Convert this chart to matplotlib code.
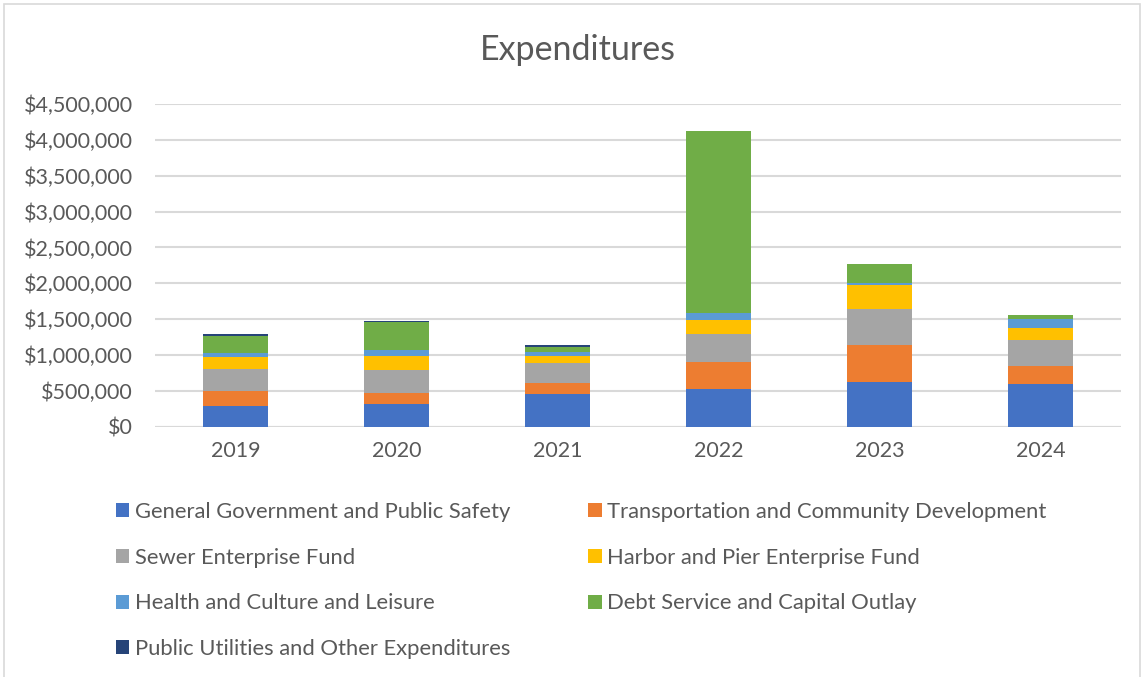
import matplotlib
matplotlib.use('Agg')
import matplotlib.pyplot as plt
from matplotlib.patches import Patch, Rectangle
import numpy as np

# data (dollars)
years = ['2019', '2020', '2021', '2022', '2023', '2024']
general_gov = [284000, 320000, 459000, 528000, 626000, 590000]
transport = [216000, 153000, 149000, 381000, 520000, 250000]
sewer = [307000, 320000, 274000, 390000, 491000, 366000]
harbor = [158000, 190000, 106000, 195000, 338000, 167000]
health = [65000, 88000, 47000, 97000, 24000, 135000]
debt = [241000, 389000, 83000, 2535000, 268000, 55000]
utilities = [15000, 14000, 18000, 1000, 1000, 1000]

names = ['General Government and Public Safety',
         'Transportation and Community Development',
         'Sewer Enterprise Fund',
         'Harbor and Pier Enterprise Fund',
         'Health and Culture and Leisure',
         'Debt Service and Capital Outlay',
         'Public Utilities and Other Expenditures']
series = [general_gov, transport, sewer, harbor, health, debt, utilities]
colors = ['#4472C4', '#ED7D31', '#A5A5A5', '#FFC000', '#5B9BD5', '#70AD47', '#264478']

plt.rcParams['font.family'] = ['Lato', 'DejaVu Sans']
txt = '#595959'

W, H = 1142, 677
fig = plt.figure(figsize=(W / 100, H / 100), dpi=100)
ax = fig.add_axes([155 / W, 1 - 426.7 / H, (1121 - 155) / W, (426.7 - 104) / H])

x = np.arange(len(years))
bottom = np.zeros(len(years))
for vals, col, nm in zip(series, colors, names):
	ax.bar(x, vals, 0.4, bottom=bottom, color=col, label=nm, zorder=3)
	bottom = bottom + np.array(vals)

ax.set_xlim(-0.5, len(years) - 0.5)
ax.set_ylim(0, 4500000)
ax.set_yticks(np.arange(0, 4500001, 500000))
ax.set_yticklabels(['${:,.0f}'.format(v) for v in ax.get_yticks()])
ax.set_xticks(x)
ax.set_xticklabels(years)
ax.grid(axis='y', color='#d9d9d9', linewidth=1.5, zorder=0)
for s in ax.spines.values():
	s.set_visible(False)
ax.axhline(0, color='#d9d9d9', linewidth=1.5, zorder=2)
ax.tick_params(axis='both', length=0, labelsize=15.5, colors=txt)
ax.tick_params(axis='y', pad=16)
ax.tick_params(axis='x', pad=10)

fig.text(578 / W, 1 - 50 / H, 'Expenditures', ha='center', va='center', fontsize=24.5, color=txt)

# legend, filled row by row like the reference
order = [0, 2, 4, 6, 1, 3, 5]
handles = [Patch(facecolor=colors[i], edgecolor='none') for i in order]
labels = [names[i] for i in order]
fig.legend(handles, labels, ncol=2, loc='upper left',
	bbox_to_anchor=(116 / W, 1 - 502 / H), frameon=False, borderpad=0,
	fontsize=15.8, labelcolor=txt, handlelength=0.6, handleheight=0.6,
	handletextpad=0.27, labelspacing=1.17, columnspacing=3.55, borderaxespad=0)

# chart frame
fig.patches.append(Rectangle((4 / W, -0.1), (1140 - 4) / W, 1.1 - 4 / H,
	transform=fig.transFigure, fill=False, edgecolor='#d9d9d9', linewidth=1.2))

fig.savefig('out.png', dpi=100)
